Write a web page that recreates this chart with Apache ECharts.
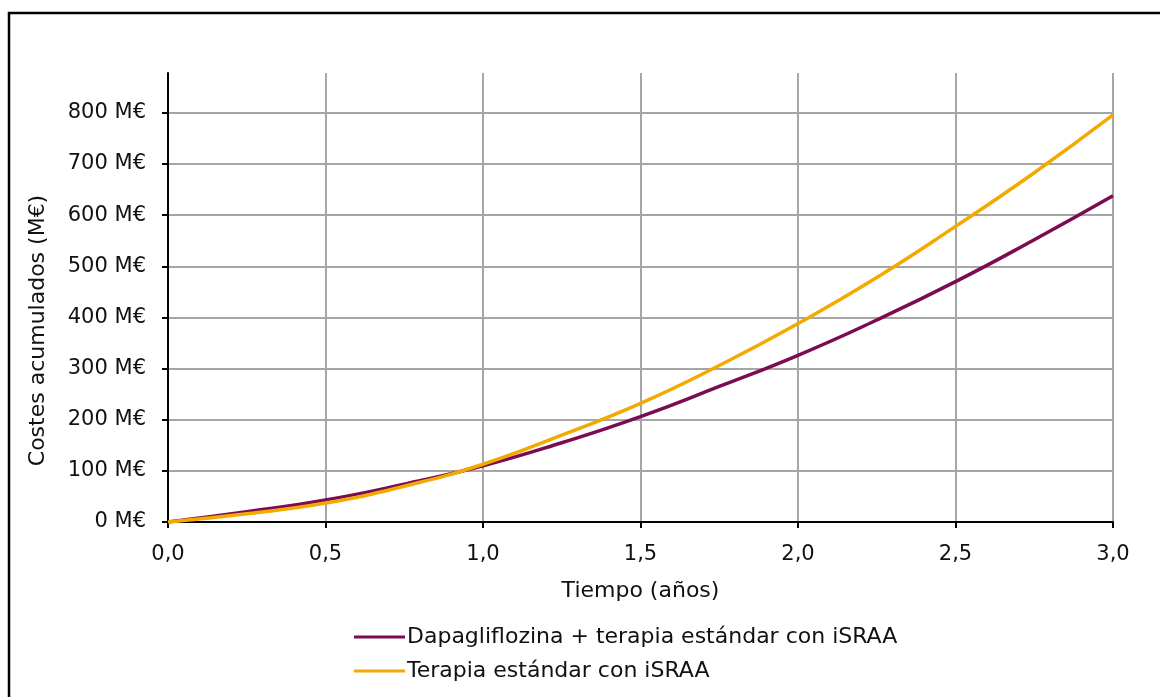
<!DOCTYPE html>
<html>
<head>
<meta charset="utf-8">
<script src="https://cdn.jsdelivr.net/npm/echarts@6/dist/echarts.min.js"></script>
<style>
  html, body { margin: 0; padding: 0; background: #fff; }
  #chart { width: 1160px; height: 697px; }
</style>
</head>
<body>
<div id="chart"></div>
<script>
// tiempo en años
const years = [0, 0.25, 0.5, 0.75, 1.0, 1.25, 1.5, 1.75, 2.0, 2.25, 2.5, 2.75, 3.0];
// costes acumulados (M€)
const dapaCosts = [0, 20, 43, 74, 110, 155, 206, 265, 326, 395, 470, 552, 638];
const standardCosts = [0, 16, 37, 70, 113, 170, 232, 306, 388, 478, 578, 683, 796];
const seriesNames = ['Dapagliflozina + terapia estándar con iSRAA', 'Terapia estándar con iSRAA'];
const seriesColors = ['#7b0c52', '#f2aa00'];

const font = 'DejaVu Sans';
const chart = echarts.init(document.getElementById('chart'));

const toPairs = (xs, ys) => xs.map((x, i) => [x, ys[i]]);

const option = {
  animation: false,
  textStyle: { fontFamily: font },
  graphic: [
    {
      type: 'rect',
      shape: { x: 9, y: 13, width: 1200, height: 800 },
      style: { fill: 'none', stroke: '#000', lineWidth: 2.5 }
    }
  ],
  grid: { left: 168, right: 47, top: 73, bottom: 175 },
  legend: {
    orient: 'vertical',
    left: 349,
    top: 621,
    icon: 'rect',
    itemWidth: 51,
    itemHeight: 3,
    itemGap: 12,
    textStyle: { fontFamily: font, fontSize: 22, color: '#111', padding: [0, 0, 0, -3] },
    data: seriesNames
  },
  xAxis: {
    type: 'value',
    min: 0,
    max: 3,
    interval: 0.5,
    name: 'Tiempo (años)',
    nameLocation: 'middle',
    nameGap: 58,
    nameTextStyle: { fontFamily: font, fontSize: 22, color: '#111' },
    axisLine: { show: true, onZero: false, lineStyle: { color: '#000', width: 2 } },
    axisTick: { show: true, length: 6, lineStyle: { color: '#000', width: 2 } },
    axisLabel: {
      fontFamily: font, fontSize: 21, color: '#111', margin: 22,
      formatter: v => v.toFixed(1).replace('.', ',')
    },
    splitLine: { show: true, lineStyle: { color: '#a6a6a6', width: 2 } }
  },
  yAxis: {
    type: 'value',
    min: 0,
    max: 878,
    interval: 100,
    name: 'Costes acumulados (M€)',
    nameLocation: 'middle',
    nameGap: 119,
    nameTextStyle: { fontFamily: font, fontSize: 22, color: '#111', padding: [0, 66, 0, 0] },
    axisLine: { show: true, lineStyle: { color: '#000', width: 2 } },
    axisTick: { show: true, length: 6, lineStyle: { color: '#000', width: 2 } },
    axisLabel: {
      fontFamily: font, fontSize: 21, color: '#111', margin: 22,
      showMaxLabel: false,
      formatter: v => (v % 100 === 0 ? v + ' M€' : '')
    },
    splitLine: { show: true, showMaxLine: false, lineStyle: { color: '#a6a6a6', width: 2 } }
  },
  series: [
    {
      name: seriesNames[0],
      type: 'line',
      smooth: true,
      showSymbol: false,
      color: seriesColors[0],
      lineStyle: { width: 3.5 },
      data: toPairs(years, dapaCosts)
    },
    {
      name: seriesNames[1],
      type: 'line',
      smooth: true,
      showSymbol: false,
      color: seriesColors[1],
      lineStyle: { width: 3.5 },
      data: toPairs(years, standardCosts)
    }
  ]
};

chart.setOption(option);
</script>
</body>
</html>
